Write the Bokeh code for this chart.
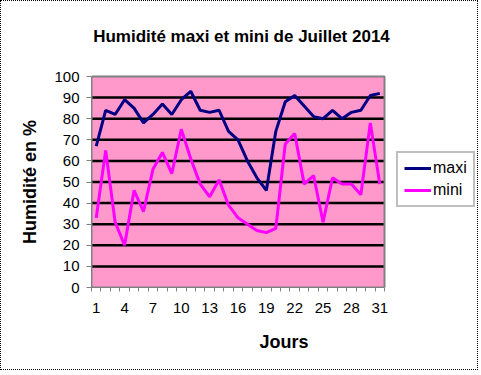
from bokeh.plotting import figure
from bokeh.models import Range1d, FixedTicker, Legend, LegendItem, Label
from bokeh.embed import file_html
from bokeh.resources import INLINE

days = list(range(1, 32))
maxi = [67, 84, 82, 89, 85, 78, 82, 87, 82, 89, 93, 84, 83, 84, 74, 70, 60, 52, 46, 74,
        88, 91, 86, 81, 80, 84, 80, 83, 84, 91, 92]
mini = [33, 65, 31, 20, 46, 36, 56, 64, 54, 75, 61, 49, 43, 51, 39, 33, 30, 27, 26, 28,
        68, 73, 49, 53, 31, 52, 49, 49, 44, 78, 49]
x_tick_labels = list(range(1, 32, 3))
y_ticks = list(range(0, 101, 10))
title_text = "Humidité maxi et mini de Juillet 2014"
y_label_text = "Humidité en %"
x_label_text = "Jours"

FONT = "Liberation Sans"

# layout geometry (canvas pixels; canvas sits inside a 1px dotted border)
W, H = 478, 370
LEFT, RIGHT, BOTTOM = 90, 3, 84
AREA_TOP = 75          # canvas row of the 100 % line
area_w = 293           # pixel width of the day axis
area_h = H - BOTTOM - AREA_TOP
frame_w = W - LEFT - RIGHT
frame_h = H - BOTTOM
x_lo = days[0] - 0.5
x_hi = days[-1] + 0.5
y_lo, y_hi = y_ticks[0], y_ticks[-1]
x_end = x_lo + frame_w * (x_hi - x_lo) / area_w
y_end = y_lo + frame_h * (y_hi - y_lo) / area_h
px_x = (x_hi - x_lo) / area_w
px_y = (y_hi - y_lo) / area_h
TITLE_BASELINE = 35    # canvas row of the title baseline
TITLE_CENTER = 240     # canvas column of the title centre
title_x = x_lo + (TITLE_CENTER - LEFT) * px_x
title_y = y_hi + (AREA_TOP - TITLE_BASELINE) * px_y

# shift the y-axis title so it is centred on the 0-100 part of the axis
shift_px = (frame_h / 2) - (AREA_TOP + area_h / 2 - (frame_h - AREA_TOP - area_h) / 2) 
pad = "\u00a0" * 15

p = figure(width=W, height=H, output_backend="svg", toolbar_location=None,
           x_range=Range1d(x_lo, x_end), y_range=Range1d(y_lo, y_end),
           min_border_left=LEFT, min_border_right=RIGHT, min_border_top=0,
           min_border_bottom=BOTTOM,
           styles={"border": "1px dotted black"})

p.background_fill_color = "white"
p.border_fill_color = "white"
p.outline_line_color = None

p.xgrid.grid_line_color = None
p.ygrid.grid_line_color = None

# plot area
p.quad(left=x_lo, right=x_hi, bottom=y_lo, top=y_hi,
       fill_color="#FF99CC", line_color=None)
# horizontal grid lines
p.segment(x0=x_lo, x1=x_hi, y0=y_ticks[1:-1], y1=y_ticks[1:-1],
          line_color="black", line_width=2.5)
# plot area border
p.quad(left=x_lo, right=x_hi, bottom=y_lo, top=y_hi,
       fill_alpha=0, line_color="#808080", line_width=2)

# title
p.add_layout(Label(x=title_x, y=title_y, text=title_text,
                   text_align="center", text_baseline="alphabetic",
                   text_font=FONT, text_font_size="17px", text_font_style="bold",
                   text_color="black"))

# axes
xa = p.xaxis[0]
xa.bounds = (x_lo, x_hi)
xa.ticker = FixedTicker(ticks=x_tick_labels, minor_ticks=[d - 0.5 for d in days + [days[-1] + 1]])
xa.major_tick_out = 0
xa.major_tick_in = 0
xa.minor_tick_out = 4
xa.minor_tick_in = 0
xa.minor_tick_line_color = "#808080"
xa.axis_line_color = "#808080"
xa.major_label_text_font = FONT
xa.major_label_text_font_size = "15px"
xa.major_label_text_color = "black"
xa.major_label_standoff = 11
xa.axis_label = x_label_text
xa.axis_label_text_font = FONT
xa.axis_label_text_font_size = "18px"
xa.axis_label_text_font_style = "bold"
xa.axis_label_text_color = "black"
xa.axis_label_standoff = 16

ya = p.yaxis[0]
ya.bounds = (y_lo, y_hi)
ya.ticker = FixedTicker(ticks=y_ticks, minor_ticks=[])
ya.major_tick_out = 5
ya.major_tick_in = 0
ya.major_tick_line_color = "#808080"
ya.axis_line_color = "#808080"
ya.major_label_text_font = FONT
ya.major_label_text_font_size = "15px"
ya.major_label_text_color = "black"
ya.major_label_standoff = 7
ya.axis_label = y_label_text + pad
ya.axis_label_text_font = FONT
ya.axis_label_text_font_size = "18px"
ya.axis_label_text_font_style = "bold"
ya.axis_label_text_color = "black"
ya.axis_label_standoff = 11

r_max = p.line(days, maxi, line_color="#000080", line_width=3)
r_min = p.line(days, mini, line_color="#FF00FF", line_width=3)

legend = Legend(items=[LegendItem(label="maxi", renderers=[r_max]),
                       LegendItem(label="mini", renderers=[r_min])],
                location=(305, 80))
legend.label_text_font = FONT
legend.label_text_font_size = "16px"
legend.label_text_color = "black"
legend.border_line_color = "#808080"
legend.border_line_width = 2
legend.background_fill_color = "white"
legend.background_fill_alpha = 1.0
legend.glyph_width = 27
legend.glyph_height = 16
legend.label_height = 16
legend.label_standoff = 2
legend.spacing = 4
legend.padding = 6
legend.margin = 0
p.add_layout(legend, "center")

open("out.html", "w").write(file_html(p, INLINE))
